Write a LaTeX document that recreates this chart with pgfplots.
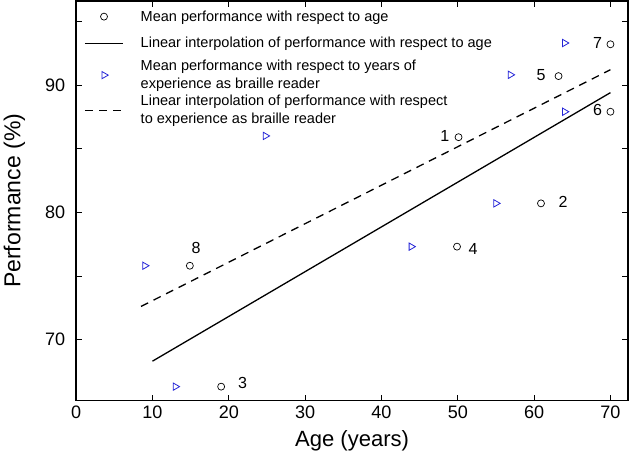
\documentclass[border=0pt]{standalone}
\usepackage{pgfplots}
\pgfplotsset{compat=1.18}
\usepackage{fontspec}
\setmainfont{Liberation Sans}
\definecolor{triblue}{RGB}{35,35,215}
\begin{document}
\begin{tikzpicture}
\begin{axis}[
  name=ax,
  scale only axis,
  width=551pt, height=399pt,
  xmin=0, xmax=72.3, ymin=65.2, ymax=96.6,
  xtick={0,10,...,70},
  ytick={70,80,90},
  minor ytick={75,85,95},
  tick align=inside,
  major tick length=6pt, minor tick length=6pt,
  tick style={black, line width=0.8pt},
  axis line style={line width=1.3pt},
  /pgf/number format/assume math mode=true,
  tick label style={font=\fontsize{18}{20}\selectfont},
  xticklabel style={yshift=-2pt},
  yticklabel style={xshift=-7.5pt},
  xlabel={Age (years)},
  ylabel={Performance (\%)},
  xlabel style={font=\fontsize{22}{24}\selectfont, yshift=-5pt},
  ylabel style={font=\fontsize{23}{24}\selectfont, yshift=13pt},
  clip=false,
  legend cell align=left,
  legend image code/.code={\draw[mark repeat=2,mark phase=2,#1] plot coordinates {(0pt,0pt) (19pt,0pt) (38pt,0pt)};},
  legend style={at={(axis description cs:0,1)}, anchor=north west, draw=none, fill=none,
    xshift=5pt, yshift=-1.6pt, row sep=1pt,
    nodes={align=left, inner sep=2pt, font=\fontsize{14.5}{18}\selectfont},
    /tikz/every odd column/.append style={column sep=15pt}},
]
\addplot[only marks, mark=o, mark size=3.5pt, black, line width=0.7pt] coordinates {
  (70,93.2) (63.2,90.7) (70,87.9) (50.1,85.9) (60.9,80.7) (49.9,77.3) (14.9,75.8) (19.0,66.3)
};
\addlegendentry[text height=14.6pt, text depth=5pt]{Mean performance with respect to age}
\addplot[black, line width=1.3pt] coordinates {(10,68.3) (70,89.4)};
\addlegendentry[text height=15.6pt, text depth=8pt]{Linear interpolation of performance with respect to age}
\addplot[only marks, mark=triangle, mark options={rotate=-90}, mark size=4.2pt, triblue, line width=0.8pt] coordinates {
  (64,93.3) (56.9,90.8) (64,87.9) (24.8,86.0) (55,80.7) (43.9,77.3) (9.0,75.8) (13.0,66.3)
};
\addlegendentry{Mean performance with respect to years of\\experience as braille reader}
\addplot[black, line width=1.3pt, dash pattern=on 8pt off 6pt] coordinates {(8.5,72.6) (70,91.2)};
\addlegendentry{Linear interpolation of performance with respect\\to experience as braille reader}
\begin{scope}[every node/.style={font=\fontsize{16}{18}\selectfont}]
\node at (axis cs:68.3,93.3) {7};
\node at (axis cs:60.9,90.8) {5};
\node at (axis cs:68.3,88.0) {6};
\node at (axis cs:48.3,86.0) {1};
\node at (axis cs:63.8,80.8) {2};
\node at (axis cs:52.0,77.1) {4};
\node at (axis cs:15.7,77.2) {8};
\node at (axis cs:21.8,66.6) {3};
\end{scope}
\end{axis}
\path ([shift={(-76pt,-56pt)}]ax.south west) rectangle ([shift={(2pt,1pt)}]ax.north east);
\end{tikzpicture}
\end{document}
